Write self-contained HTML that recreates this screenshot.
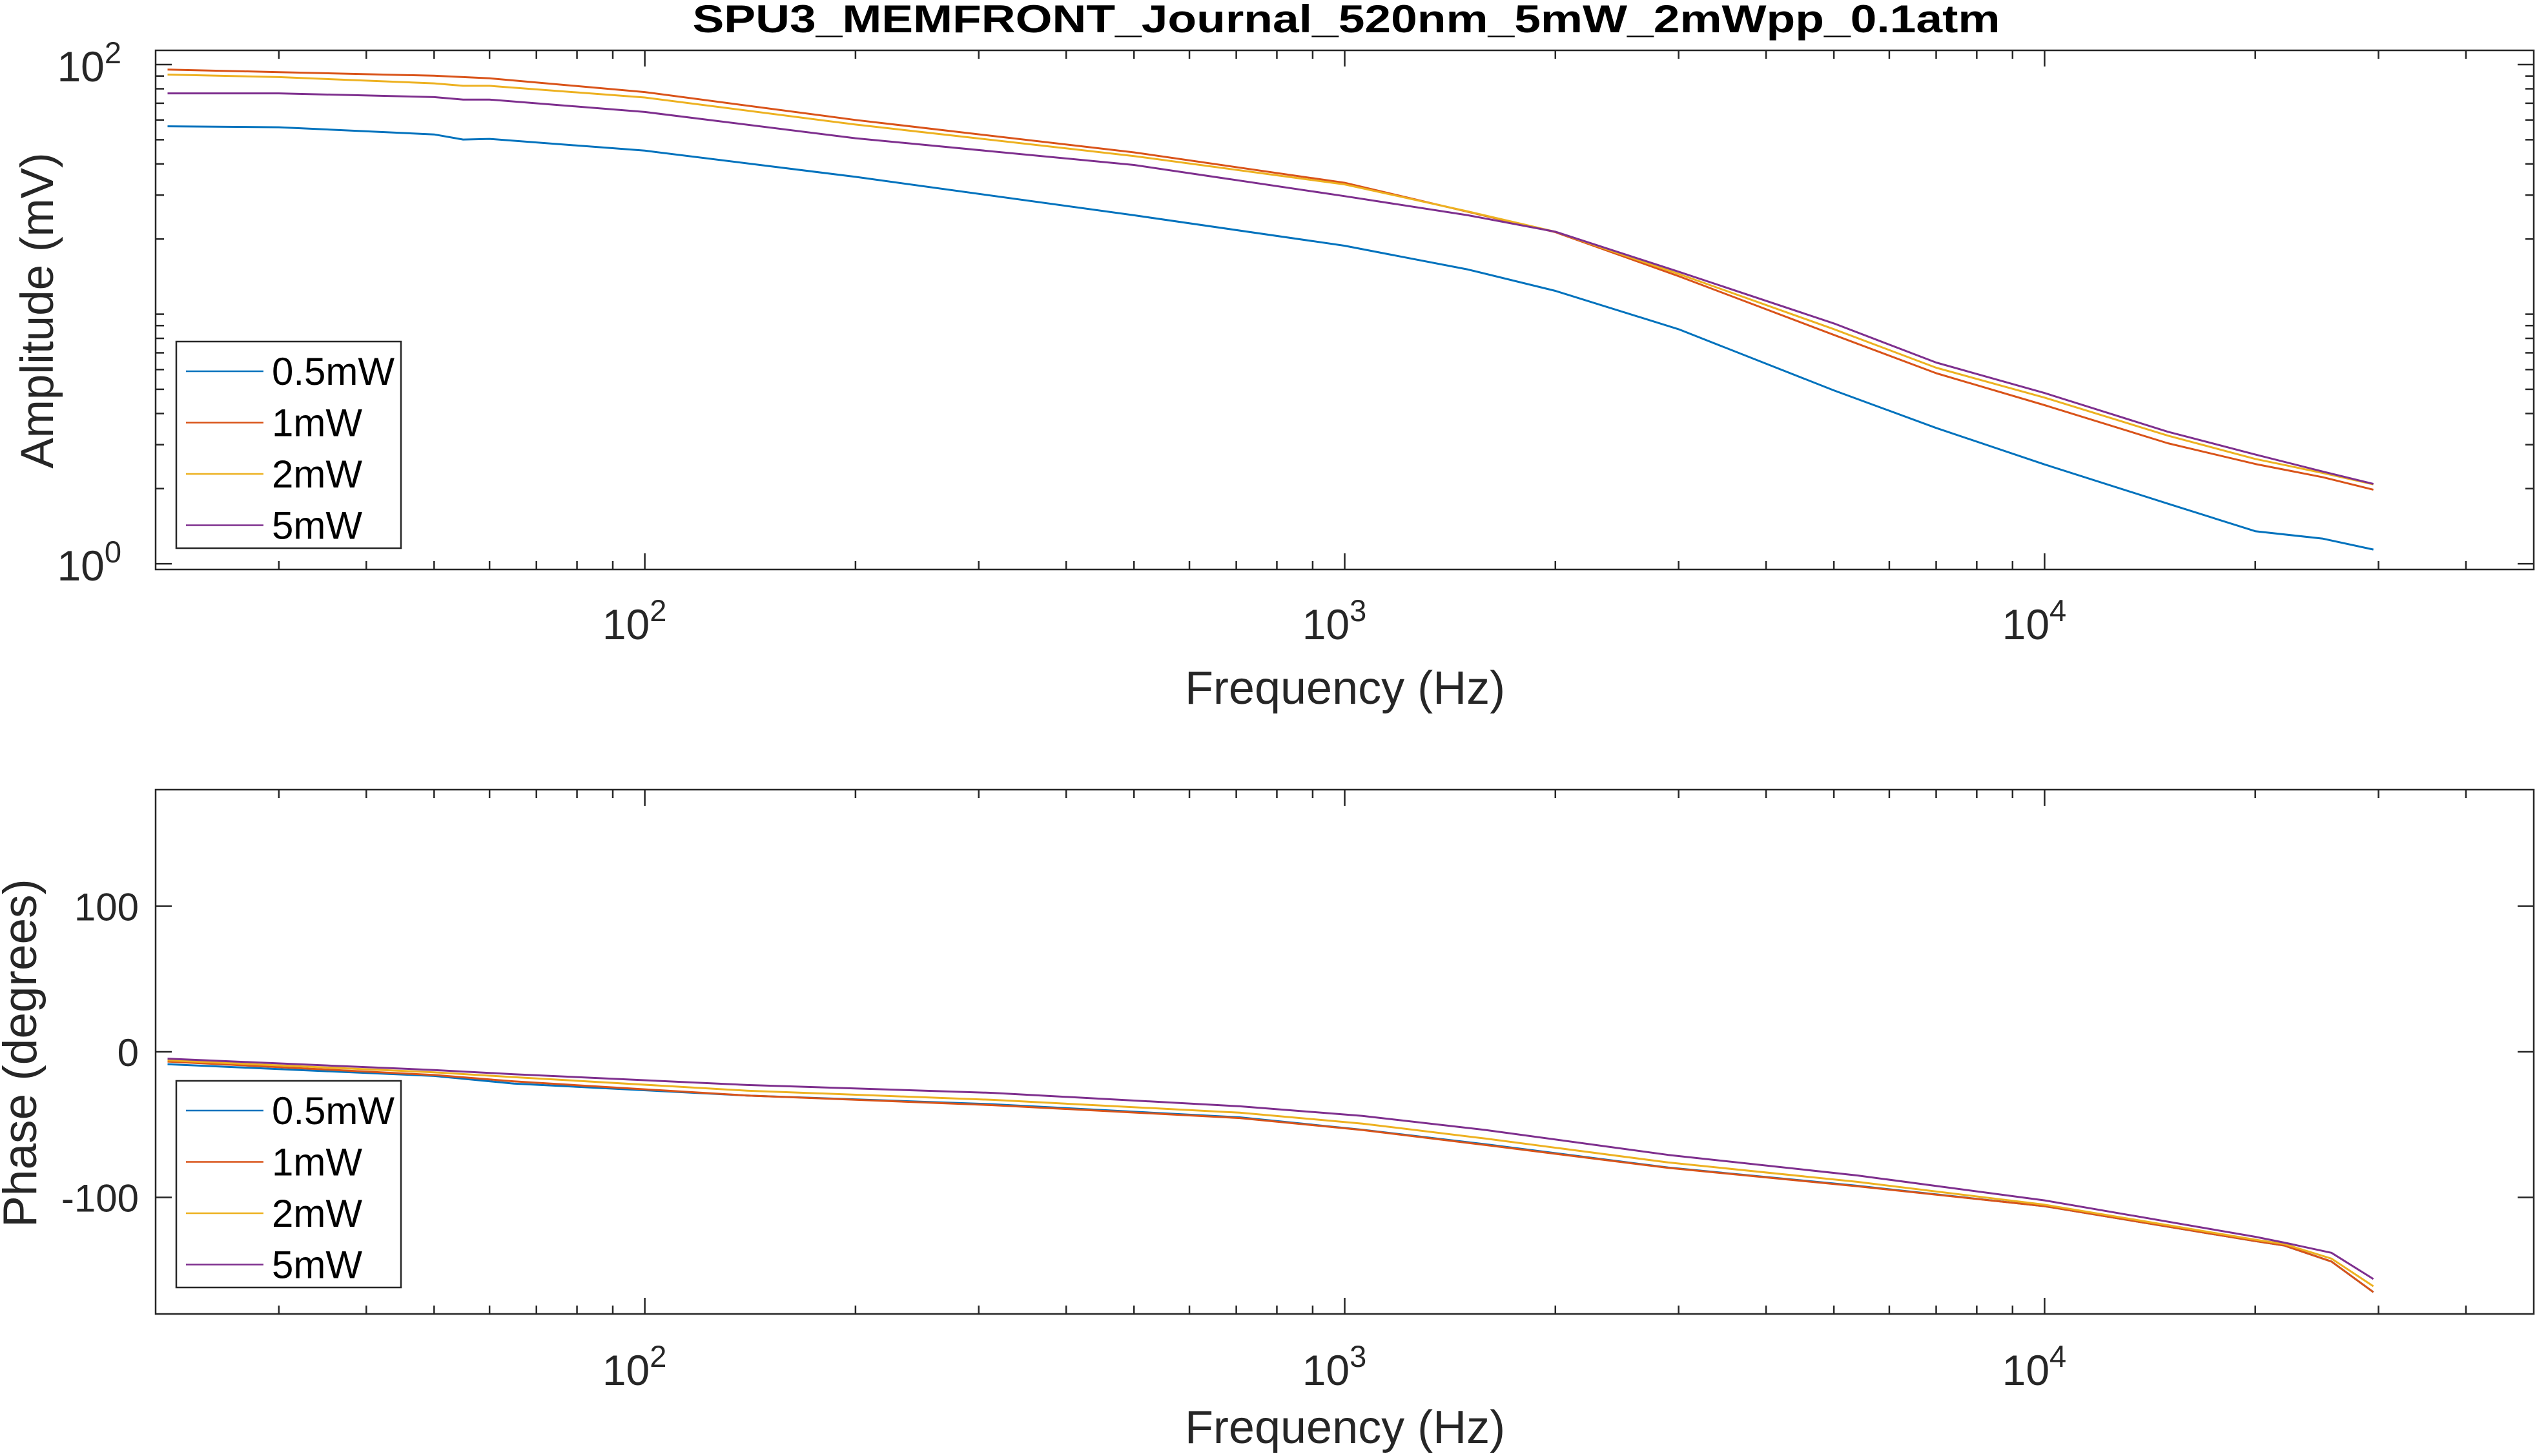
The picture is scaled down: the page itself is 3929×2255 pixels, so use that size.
<!DOCTYPE html>
<html><head><meta charset="utf-8"><style>
html,body{margin:0;padding:0;background:#fff;}
svg{display:block;font-family:"Liberation Sans",Arial,sans-serif;}
</style></head><body>
<svg id="fig" width="3929" height="2255" viewBox="0 0 3929 2255" xmlns="http://www.w3.org/2000/svg">
<rect width="3929" height="2255" fill="#fff"/>
<text x="2085" y="50" text-anchor="middle" font-weight="bold" font-size="60" textLength="2025" lengthAdjust="spacingAndGlyphs" fill="#000">SPU3_MEMFRONT_Journal_520nm_5mW_2mWpp_0.1atm</text>
<g id="amp"></g>
<g id="ph"></g>
</svg>
<script>
const NS="http://www.w3.org/2000/svg";
const seriesNames=["0.5mW","1mW","2mW","5mW"];
const seriesColors=["#0072BD","#D95319","#EDB120","#7E2F8E"];
const ampFreq=[20.8,30,50,55,60,100,200,500,1000,1500,2000,3000,5000,7000,10000,15000,20000,25000,29500];
const amp05=[56.6,56.1,52.5,50.1,50.4,45.2,35.5,24.9,18.8,15.1,12.4,8.7,4.95,3.5,2.5,1.74,1.35,1.26,1.14];
const amp1=[95.5,93.3,90.2,89.1,88.1,77.6,60.0,44.5,33.6,25.7,21.3,14.2,8.26,5.8,4.32,3.04,2.51,2.22,1.98];
const amp2=[91.2,89.1,84.1,82.2,82.2,73.8,57.5,43.0,33.1,25.8,21.4,14.5,8.71,6.1,4.63,3.26,2.63,2.31,2.08];
const amp5=[76.7,76.7,74.1,72.4,72.4,64.6,50.7,39.6,29.7,24.9,21.4,14.8,9.18,6.4,4.83,3.38,2.74,2.34,2.09];
const phFreq=[20.8,50,65,140,314,708,1060,1590,2900,5400,10000,20000,22000,25700,29500];
const ph05=[-8.5,-16.6,-21.8,-30,-36,-45,-53.5,-63.5,-79.5,-92,-106,-130,-133,-144,-165];
const ph1=[-6.7,-15.9,-20.3,-30,-36.6,-45.5,-53.7,-64,-79.7,-92.3,-106,-130,-133,-144,-165];
const ph2=[-5.9,-14.1,-17.4,-26.7,-33,-41.8,-49.3,-59.6,-76,-89.3,-105,-129,-132,-142,-161];
const ph5=[-4.7,-12.5,-15.4,-22.8,-28.2,-37.4,-44,-53.7,-70.8,-84.9,-102,-127,-131,-138,-156];
const xDecadeTicks=[2,3,4];
const ampTickExp=[0,2];
const phTicks=[-100,0,100];

const L=241,R=3924;
const xLogMin=Math.log10(20),xLogMax=Math.log10(50000);
function xs(f){return L+(Math.log10(f)-xLogMin)/(xLogMax-xLogMin)*(R-L);}
const A={top:78,bot:882,lmin:-0.023,lmax:2.057};
function ya(v){return A.bot-(Math.log10(v)-A.lmin)/(A.lmax-A.lmin)*(A.bot-A.top);}
const P={top:1223,bot:2035,min:-180,max:180};
function yp(v){return P.bot-(v-P.min)/(P.max-P.min)*(P.bot-P.top);}

function el(tag,attrs,parent,txt){const e=document.createElementNS(NS,tag);for(const k in attrs)e.setAttribute(k,attrs[k]);if(txt!==undefined)e.textContent=txt;parent.appendChild(e);return e;}
const AX="#262626";

function drawXAxis(g,top,bot,labelY,titleY){
  for(let d=1;d<=4;d++){for(let m=1;m<=9;m++){const f=m*Math.pow(10,d);const x=xs(f);if(x<L+1||x>R-1)continue;
    const len=(m===1)?25:13;
    const t1=el('line',{x1:x,x2:x,y1:bot,y2:bot-len,stroke:AX,'stroke-width':2.5},g);
    
    
    const t2=el('line',{x1:x,x2:x,y1:top,y2:top+len,stroke:AX,'stroke-width':2.5},g);
    
    
  }}
  xDecadeTicks.forEach(e=>{const x=xs(Math.pow(10,e));
    const t=el('text',{x:x-16,y:labelY,'text-anchor':'middle','font-size':66,fill:AX},g);
    
    
    el('tspan',{},t,'10');el('tspan',{dy:-28,'font-size':47},t,String(e));
  });
  const ti=el('text',{x:2083,y:titleY,'text-anchor':'middle','font-size':72,fill:AX},g,'Frequency (Hz)');
  
  
}
function drawLegend(g,y0,lineW){
  const box=el('rect',{x:273,y:y0,width:348,height:320,fill:'#fff',stroke:AX,'stroke-width':2.5},g);
  
  
  seriesNames.forEach((n,i)=>{const y=y0+46+i*79.5;
    const ln=el('line',{x1:288,x2:408,y1:y,y2:y,stroke:seriesColors[i],'stroke-width':lineW},g);
    
    
    const t=el('text',{x:421,y:y+21,'font-size':60,fill:'#000'},g,n);
    
    
  });
}
function poly(g,fr,vals,yf,color,name){
  const pts=fr.map((f,i)=>xs(f).toFixed(1)+','+yf(vals[i]).toFixed(1)).join(' ');
  const p=el('polyline',{points:pts,fill:'none',stroke:color,'stroke-width':3,'stroke-linejoin':'round'},g);
  
  
}

// Amplitude
const ga=document.getElementById('amp');
[amp05,amp1,amp2,amp5].forEach((s,i)=>poly(ga,ampFreq,s,ya,seriesColors[i],'amplitude-line-'+seriesNames[i]));
for(let d=0;d<2;d++){for(let m=1;m<=9;m++){const v=m*Math.pow(10,d);const y=ya(v);const len=(m===1&&d===0)?25:13;
  const a=el('line',{x1:L,x2:L+len,y1:y,y2:y,stroke:AX,'stroke-width':2.5},ga);
  
  
  const b=el('line',{x1:R,x2:R-len,y1:y,y2:y,stroke:AX,'stroke-width':2.5},ga);
  
  
}}
{const y=ya(100);el('line',{x1:L,x2:L+25,y1:y,y2:y,stroke:AX,'stroke-width':2.5},ga);el('line',{x1:R,x2:R-25,y1:y,y2:y,stroke:AX,'stroke-width':2.5},ga);}
ampTickExp.forEach(e=>{const y=ya(Math.pow(10,e));
  const t=el('text',{x:188,y:y+26,'text-anchor':'end','font-size':66,fill:AX},ga);
  
  
  el('tspan',{},t,'10');el('tspan',{dy:-28,'font-size':47},t,String(e));
});
const ab=el('rect',{x:L,y:A.top,width:R-L,height:A.bot-A.top,fill:'none',stroke:AX,'stroke-width':2.5},ga);


drawXAxis(ga,A.top,A.bot,990,1090);
const ay=el('text',{x:0,y:0,'text-anchor':'middle','font-size':71,fill:AX,transform:'translate(82,481) rotate(-90)'},ga,'Amplitude (mV)');


drawLegend(ga,529,2.5);

// Phase
const gp=document.getElementById('ph');
[ph05,ph1,ph2,ph5].forEach((s,i)=>poly(gp,phFreq,s,yp,seriesColors[i],'phase-line-'+seriesNames[i]));
phTicks.forEach(v=>{const y=yp(v);
  const a=el('line',{x1:L,x2:L+25,y1:y,y2:y,stroke:AX,'stroke-width':2.5},gp);
  
  
  const b=el('line',{x1:R,x2:R-25,y1:y,y2:y,stroke:AX,'stroke-width':2.5},gp);
  
  
  const t=el('text',{x:215,y:y+22,'text-anchor':'end','font-size':60,fill:AX},gp,String(v));
  
  
});
const pb=el('rect',{x:L,y:P.top,width:R-L,height:P.bot-P.top,fill:'none',stroke:AX,'stroke-width':2.5},gp);


drawXAxis(gp,P.top,P.bot,2145,2235);
const py=el('text',{x:0,y:0,'text-anchor':'middle','font-size':73,fill:AX,transform:'translate(56,1631) rotate(-90)'},gp,'Phase (degrees)');


drawLegend(gp,1674,2.5);
</script>
</body></html>
